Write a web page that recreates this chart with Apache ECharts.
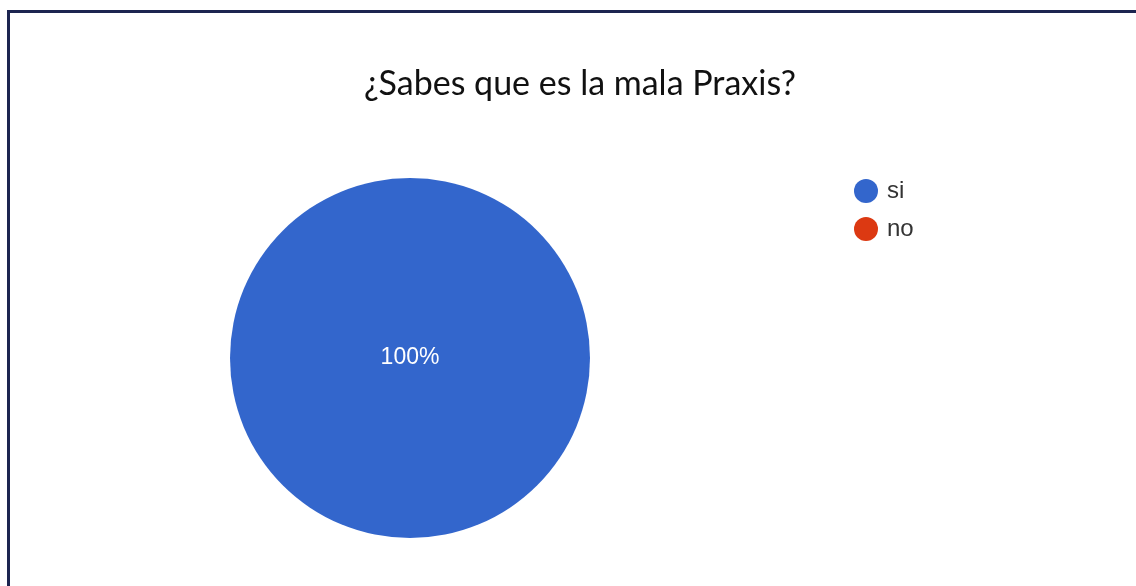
<!DOCTYPE html>
<html>
<head>
<meta charset="utf-8">
<script src="https://cdn.jsdelivr.net/npm/echarts@6/dist/echarts.min.js"></script>
<style>
html,body{margin:0;padding:0;background:#fff;}
#chart{width:1136px;height:586px;}
</style>
</head>
<body>
<div id="chart"></div>
<script>
const titleText = '¿Sabes que es la mala Praxis?';
const categories = ['si', 'no'];
const values = [100, 0];
const colors = ['#3366cc', '#dc3912'];

const chart = echarts.init(document.getElementById('chart'), null, {renderer: 'canvas'});
chart.setOption({
  backgroundColor: '#ffffff',
  animation: false,
  color: colors,
  title: {
    text: titleText,
    left: 575,
    textAlign: 'center',
    top: 62,
    textStyle: {fontFamily: 'Lato', fontSize: 34, fontWeight: 'normal', color: '#111'}
  },
  legend: {
    orient: 'vertical',
    left: 849,
    top: 174,
    icon: 'circle',
    itemWidth: 24,
    itemHeight: 24,
    itemGap: 14,
    textStyle: {fontFamily: 'Liberation Sans', fontSize: 24, color: '#333', padding: [0,0,0,4]},
    data: categories
  },
  graphic: [
    {type: 'rect', shape: {x: 7, y: 10, width: 1129, height: 3}, style: {fill: '#1c2550'}},
    {type: 'rect', shape: {x: 7, y: 10, width: 3, height: 576}, style: {fill: '#1c2550'}}
  ],
  series: [{
    type: 'pie',
    center: [410, 358],
    radius: 180,
    startAngle: 90,
    label: {
      show: true,
      position: 'center',
      formatter: function (p) { return p.value > 0 ? Math.round(p.percent) + '%' : ''; },
      fontFamily: 'Liberation Sans',
      fontSize: 23,
      color: '#ffffff'
    },
    labelLine: {show: false},
    emphasis: {disabled: true},
    itemStyle: {borderWidth: 0},
    data: categories.map((c, i) => ({name: c, value: values[i]}))
  }]
});
</script>
</body>
</html>
